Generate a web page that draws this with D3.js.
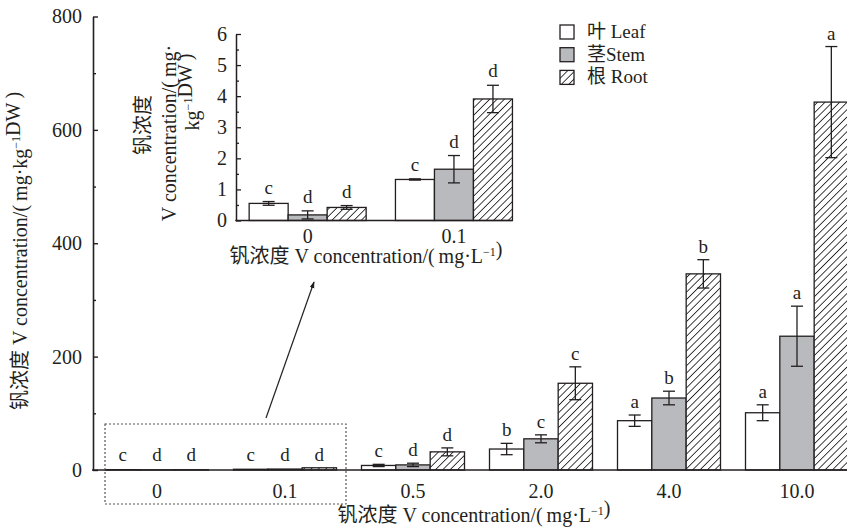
<!DOCTYPE html>
<html>
<head>
<meta charset="utf-8">
<script src="https://cdn.jsdelivr.net/npm/d3@7"></script>
<style>
  body { margin: 0; background: #fff; }
  svg text { font-family: "Liberation Serif", "Noto Sans CJK SC", serif; fill: #231f20; }
</style>
</head>
<body>
<svg id="chart" width="847" height="527"></svg>
<script>
// data (mg/kg DW)
const concentrations = ["0", "0.1", "0.5", "2.0", "4.0", "10.0"];
const organs = ["leaf", "stem", "root"];
const legendLabels = ["叶 Leaf", "茎Stem", "根 Root"];

const leafMean = [0.55, 1.32, 8, 37, 87, 101];
const leafErr = [0.06, 0.02, 2, 10, 10, 14];
const leafSig = ["c", "c", "c", "b", "a", "a"];

const stemMean = [0.18, 1.65, 9, 55, 127, 236];
const stemErr = [0.13, 0.44, 3, 7, 12, 53];
const stemSig = ["d", "d", "d", "c", "b", "a"];

const rootMean = [0.42, 3.91, 32, 153, 346, 649];
const rootErr = [0.06, 0.44, 7, 29, 25, 98];
const rootSig = ["d", "d", "d", "c", "b", "a"];

const yTicks = [0, 200, 400, 600, 800];
const yMinorTicks = [100, 300, 500, 700];
const insetConcentrations = ["0", "0.1"];
const insetTicks = [0, 1, 2, 3, 4, 5, 6];
const insetMinorTicks = [0.5, 1.5, 2.5, 3.5, 4.5, 5.5];

const ink = "#231f20";
const stemGrey = "#b9babe";

// build rows for the join
const series = { leaf: [leafMean, leafErr, leafSig], stem: [stemMean, stemErr, stemSig], root: [rootMean, rootErr, rootSig] };
const rows = [];
concentrations.forEach((c, i) => {
  organs.forEach(o => {
    rows.push({ conc: c, organ: o, v: series[o][0][i], e: series[o][1][i], sig: series[o][2][i] });
  });
});

const svg = d3.select("#chart");

// hatch pattern for root
const defs = svg.append("defs");
defs.append("pattern")
  .attr("id", "hatch")
  .attr("patternUnits", "userSpaceOnUse")
  .attr("width", 5.2)
  .attr("height", 5.2)
  .attr("patternTransform", "rotate(45)")
  .call(p => {
    p.append("rect").attr("width", 5.2).attr("height", 5.2).attr("fill", "#fff");
    p.append("line").attr("x1", 0).attr("y1", 0).attr("x2", 0).attr("y2", 5.2)
      .attr("stroke", "#111").attr("stroke-width", 1.6);
  });

const fillFor = o => (o === "leaf" ? "#fff" : o === "stem" ? stemGrey : "url(#hatch)");

// superscript helper: parts = [[text, isSup], ...]
function richText(sel, parts, supSize) {
  parts.forEach(([t, sup]) => {
    if (sup) {
      sel.append("tspan").attr("font-size", supSize).attr("dy", -7).text(t);
      sel.append("tspan").attr("dy", 7).text("");
    } else {
      sel.append("tspan").text(t);
    }
  });
}

// ---------- main chart ----------
const x0 = d3.scaleBand().domain(concentrations).range([93, 861]);
const x1 = d3.scaleBand().domain(organs).range([12.5, 115.5]);
const y = d3.scaleLinear().domain([0, 800]).range([470, 16.5]);

const main = svg.append("g");

main.selectAll("rect.bar")
  .data(rows)
  .join("rect")
  .attr("class", "bar")
  .attr("x", d => x0(d.conc) + x1(d.organ))
  .attr("y", d => y(d.v))
  .attr("width", x1.bandwidth())
  .attr("height", d => y(0) - y(d.v))
  .attr("fill", d => fillFor(d.organ))
  .attr("stroke", ink)
  .attr("stroke-width", 1.3);

const errMain = main.selectAll("g.err")
  .data(rows.filter(d => d.e > 1))
  .join("g")
  .attr("class", "err")
  .attr("transform", d => `translate(${x0(d.conc) + x1(d.organ) + x1.bandwidth() / 2},0)`)
  .attr("stroke", ink)
  .attr("stroke-width", 1.3);
errMain.append("line").attr("y1", d => y(d.v + d.e)).attr("y2", d => y(d.v - d.e));
errMain.append("line").attr("x1", -6).attr("x2", 6).attr("y1", d => y(d.v + d.e)).attr("y2", d => y(d.v + d.e));
errMain.append("line").attr("x1", -6).attr("x2", 6).attr("y1", d => y(d.v - d.e)).attr("y2", d => y(d.v - d.e));

main.selectAll("text.sig")
  .data(rows)
  .join("text")
  .attr("class", "sig")
  .attr("x", d => x0(d.conc) + x1(d.organ) + x1.bandwidth() / 2)
  .attr("y", d => Math.min(y(d.v + d.e), y(0) - 2) - 7)
  .attr("text-anchor", "middle")
  .attr("font-size", 19)
  .text(d => d.sig);

// y axis
const yAxis = main.append("g").attr("transform", "translate(93,0)")
  .call(d3.axisLeft(y).tickValues(yTicks).tickSizeInner(-5).tickSizeOuter(0).tickPadding(11));
yAxis.selectAll("text").attr("font-size", 20).attr("fill", ink).attr("font-family", null);
yAxis.selectAll("line").attr("stroke", ink).attr("stroke-width", 1.4);
yAxis.select(".domain").attr("stroke", ink).attr("stroke-width", 1.6);
const yMinor = main.append("g").attr("transform", "translate(93,0)")
  .call(d3.axisLeft(y).tickValues(yMinorTicks).tickSize(-3).tickFormat(""));
yMinor.select(".domain").remove();
yMinor.selectAll("line").attr("stroke", ink).attr("stroke-width", 1.4);

// x axis
const xAxis = main.append("g").attr("transform", "translate(0,470)")
  .call(d3.axisBottom(x0).tickSize(0).tickPadding(14));
xAxis.select(".domain").remove();
xAxis.selectAll("text").attr("font-size", 20).attr("fill", ink).attr("font-family", null);
main.append("line").attr("x1", 92).attr("x2", 847).attr("y1", 470).attr("y2", 470)
  .attr("stroke", ink).attr("stroke-width", 1.6);

// axis titles
const xTitle = main.append("text").attr("x", 474).attr("y", 522).attr("text-anchor", "middle").attr("font-size", 20);
richText(xTitle, [["钒浓度 V concentration/(\u2009mg·L", false], ["−1", true], [")", false]], 12);

const yTitle = main.append("text").attr("transform", "translate(27,251) rotate(-90)")
  .attr("text-anchor", "middle").attr("font-size", 20);
richText(yTitle, [["钒浓度 V concentration/(\u2009mg·kg", false], ["−1", true], ["DW\u2009)", false]], 12);

// dotted box round the low groups and the arrow
main.append("rect").attr("x", 105).attr("y", 424).attr("width", 241).attr("height", 80)
  .attr("fill", "none").attr("stroke", "#555").attr("stroke-width", 1.2).attr("stroke-dasharray", "2,2");
defs.append("marker").attr("id", "arrow").attr("viewBox", "0 0 10 10").attr("refX", 9).attr("refY", 5)
  .attr("markerWidth", 7).attr("markerHeight", 7).attr("markerUnits", "userSpaceOnUse").attr("orient", "auto")
  .append("path").attr("d", "M0,1.5L10,5L0,8.5Z").attr("fill", ink);
main.append("line").attr("x1", 266).attr("y1", 418).attr("x2", 314).attr("y2", 282)
  .attr("stroke", ink).attr("stroke-width", 1.2).attr("marker-end", "url(#arrow)");

// ---------- inset ----------
const insetRows = rows.filter(d => insetConcentrations.includes(d.conc));
const ix0 = d3.scaleBand().domain(insetConcentrations).range([234.5, 527.1]);
const ix1 = d3.scaleBand().domain(organs).range([14.65, 131.65]);
const iy = d3.scaleLinear().domain([0, 6]).range([220.5, 34]);

const inset = svg.append("g");

inset.selectAll("rect.ibar")
  .data(insetRows)
  .join("rect")
  .attr("class", "ibar")
  .attr("x", d => ix0(d.conc) + ix1(d.organ))
  .attr("y", d => iy(d.v))
  .attr("width", ix1.bandwidth())
  .attr("height", d => iy(0) - iy(d.v))
  .attr("fill", d => fillFor(d.organ))
  .attr("stroke", ink)
  .attr("stroke-width", 1.3);

const errInset = inset.selectAll("g.ierr")
  .data(insetRows)
  .join("g")
  .attr("class", "ierr")
  .attr("transform", d => `translate(${ix0(d.conc) + ix1(d.organ) + ix1.bandwidth() / 2},0)`)
  .attr("stroke", ink)
  .attr("stroke-width", 1.3);
errInset.append("line").attr("y1", d => iy(d.v + d.e)).attr("y2", d => iy(d.v - d.e));
errInset.append("line").attr("x1", -6).attr("x2", 6).attr("y1", d => iy(d.v + d.e)).attr("y2", d => iy(d.v + d.e));
errInset.append("line").attr("x1", -6).attr("x2", 6).attr("y1", d => iy(d.v - d.e)).attr("y2", d => iy(d.v - d.e));

inset.selectAll("text.isig")
  .data(insetRows)
  .join("text")
  .attr("class", "isig")
  .attr("x", d => ix0(d.conc) + ix1(d.organ) + ix1.bandwidth() / 2)
  .attr("y", d => iy(d.v + d.e) - 8)
  .attr("text-anchor", "middle")
  .attr("font-size", 19)
  .text(d => d.sig);

const iyAxis = inset.append("g").attr("transform", "translate(236,0)")
  .call(d3.axisLeft(iy).tickValues(insetTicks).tickFormat(d3.format("d"))
    .tickSizeInner(-5).tickSizeOuter(0).tickPadding(9));
iyAxis.selectAll("text").attr("font-size", 20).attr("fill", ink).attr("font-family", null);
iyAxis.selectAll("line").attr("stroke", ink).attr("stroke-width", 1.3);
iyAxis.select(".domain").attr("stroke", ink).attr("stroke-width", 1.5);
const iyMinor = inset.append("g").attr("transform", "translate(236,0)")
  .call(d3.axisLeft(iy).tickValues(insetMinorTicks).tickSize(-3).tickFormat(""));
iyMinor.select(".domain").remove();
iyMinor.selectAll("line").attr("stroke", ink).attr("stroke-width", 1.3);

const ixAxis = inset.append("g").attr("transform", "translate(0,220.5)")
  .call(d3.axisBottom(ix0).tickSize(0).tickPadding(8));
ixAxis.select(".domain").remove();
ixAxis.selectAll("text").attr("font-size", 20).attr("fill", ink).attr("font-family", null);
inset.append("line").attr("x1", 235.3).attr("x2", ix0(insetConcentrations[1]) + ix1.range()[1])
  .attr("y1", 220.5).attr("y2", 220.5).attr("stroke", ink).attr("stroke-width", 1.5);

const ixTitle = inset.append("text").attr("x", 366).attr("y", 263).attr("text-anchor", "middle").attr("font-size", 20);
richText(ixTitle, [["钒浓度 V concentration/(\u2009mg·L", false], ["−1", true], [")", false]], 12);

const iyTitle = inset.append("g").attr("transform", "rotate(-90)").attr("font-size", 20);
iyTitle.append("text").attr("x", -125).attr("y", 150).attr("text-anchor", "middle").text("钒浓度");
iyTitle.append("text").attr("x", -133).attr("y", 176).attr("text-anchor", "middle").text("V concentration/(\u2009mg·");
const iyLine3 = iyTitle.append("text").attr("x", -92).attr("y", 199).attr("text-anchor", "middle");
richText(iyLine3, [["kg", false], ["−1", true], ["DW\u2009)", false]], 12);

// ---------- legend ----------
const legend = svg.append("g").attr("transform", "translate(560,0)");
const legRows = legend.selectAll("g")
  .data(organs)
  .join("g")
  .attr("transform", (d, i) => `translate(0,${25 + i * 22.7})`);
legRows.append("rect").attr("width", 14).attr("height", 14)
  .attr("fill", d => fillFor(d)).attr("stroke", ink).attr("stroke-width", 1.3);
legRows.append("text").attr("x", 27).attr("y", 13).attr("font-size", 19)
  .text((d, i) => legendLabels[i]);
</script>
</body>
</html>
